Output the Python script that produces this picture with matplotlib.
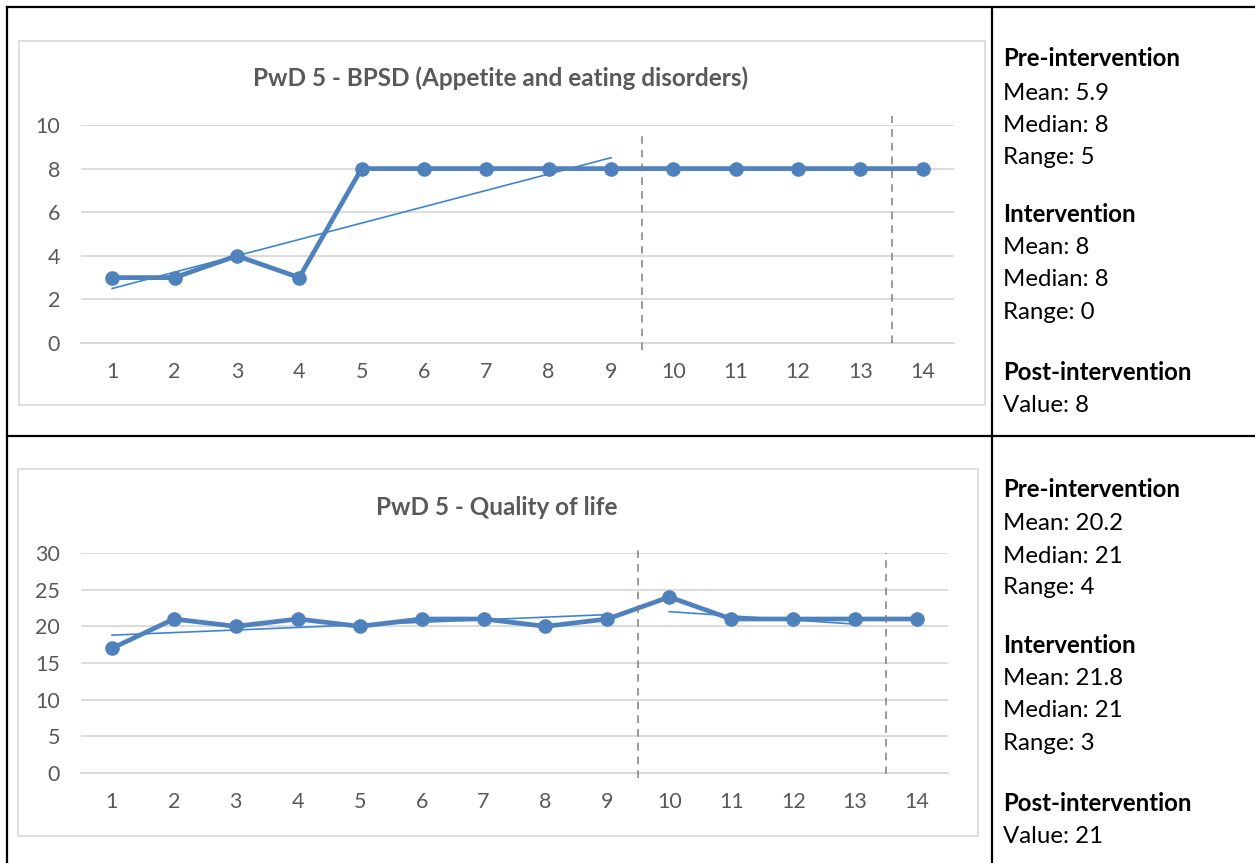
import matplotlib
matplotlib.use("Agg")
import matplotlib.pyplot as plt
from matplotlib.patches import Rectangle
from matplotlib.lines import Line2D

# ---- data ----
sessions = list(range(1, 15))

bpsd_title = "PwD 5 - BPSD (Appetite and eating disorders)"
bpsd_values = [3, 3, 4, 3, 8, 8, 8, 8, 8, 8, 8, 8, 8, 8]
bpsd_yticks = [0, 2, 4, 6, 8, 10]
bpsd_trend_pre_x = [1, 9]
bpsd_trend_pre_y = [2.5, 8.5]
bpsd_trend_int_x = [10, 13]
bpsd_trend_int_y = [8, 8]

qol_title = "PwD 5 - Quality of life"
qol_values = [17, 21, 20, 21, 20, 21, 21, 20, 21, 24, 21, 21, 21, 21]
qol_yticks = [0, 5, 10, 15, 20, 25, 30]
qol_trend_pre_x = [1, 9]
qol_trend_pre_y = [18.8, 21.6]
qol_trend_int_x = [10, 13]
qol_trend_int_y = [22.0, 20.3]

phase_changes = [9.5, 13.5]

bpsd_stats = [("Pre-intervention", True), ("Mean: 5.9", False), ("Median: 8", False),
              ("Range: 5", False), ("", False), ("Intervention", True), ("Mean: 8", False),
              ("Median: 8", False), ("Range: 0", False), ("", False),
              ("Post-intervention", True), ("Value: 8", False)]
qol_stats = [("Pre-intervention", True), ("Mean: 20.2", False), ("Median: 21", False),
             ("Range: 4", False), ("", False), ("Intervention", True), ("Mean: 21.8", False),
             ("Median: 21", False), ("Range: 3", False), ("", False),
             ("Post-intervention", True), ("Value: 21", False)]

# ---- styling ----
W, H = 1255, 863
FONT = "Lato"
SERIES = "#4F81BD"
TREND = "#3D86CF"
GRID = "#D9D9D9"
TEXT = "#595959"

plt.rcParams["font.family"] = [FONT, "DejaVu Sans"]

fig = plt.figure(figsize=(W / 100, H / 100), dpi=100)
fig.patch.set_facecolor("white")


def fx(x):
    return x / W


def fy(y):
    return 1 - y / H


def px_rect(x0, y0, x1, y1):
    return [fx(x0), fy(y1), (x1 - x0) / W, (y1 - y0) / H]


# table rules
for (x0, y0, x1, y1) in [(7, 7, 1255, 7), (7, 436, 1255, 436), (7, 7, 7, 863), (992, 7, 992, 863)]:
    fig.add_artist(Line2D([fx(x0), fx(x1)], [fy(y0), fy(y1)], color="black", lw=1.6,
                          transform=fig.transFigure))

# chart frames
for (x0, y0, x1, y1) in [(19, 41, 985, 405), (18, 469, 978, 836)]:
    fig.add_artist(Rectangle((fx(x0), fy(y1)), (x1 - x0) / W, (y1 - y0) / H,
                             fill=False, edgecolor=GRID, lw=1.2, transform=fig.transFigure))


def draw_chart(rect, values, yticks, trends, title, title_xy, dash_spans):
    ax = fig.add_axes(rect)
    ax.set_xlim(0.5, 14.5)
    ax.set_ylim(yticks[0], yticks[-1])
    ax.set_yticks(yticks)
    ax.set_xticks(sessions)
    ax.set_xticklabels([str(s) for s in sessions])
    ax.grid(axis="y", color=GRID, lw=1.3)
    ax.set_axisbelow(True)
    for s in ax.spines.values():
        s.set_visible(False)
    ax.spines["bottom"].set_visible(True)
    ax.spines["bottom"].set_color(GRID)
    ax.spines["bottom"].set_linewidth(1.3)
    ax.tick_params(length=0, labelsize=15.5, labelcolor=TEXT)
    ax.tick_params(axis="x", pad=14)
    ax.tick_params(axis="y", pad=15)
    for (tx, ty) in trends:
        ax.plot(tx, ty, color=TREND, lw=1.2, zorder=3)
    ax.plot(sessions, values, color=SERIES, lw=3.4, marker="o", ms=9.5, zorder=4,
            solid_joinstyle="round")
    for xc, (lo, hi) in zip(phase_changes, dash_spans):
        ax.plot([xc, xc], [lo, hi], color="#808080", lw=1.1, ls=(0, (5, 4)),
                clip_on=False, zorder=5)
    fig.text(fx(title_xy[0]), fy(title_xy[1]), title, ha="center", va="center",
             fontsize=17.5, fontweight="bold", color=TEXT)
    return ax


draw_chart(px_rect(81, 125, 954, 343), bpsd_values, bpsd_yticks,
           [(bpsd_trend_pre_x, bpsd_trend_pre_y), (bpsd_trend_int_x, bpsd_trend_int_y)],
           bpsd_title, (501, 78), [(-0.3, 9.77), (0, 10.4)])

draw_chart(px_rect(81, 553, 948, 773), qol_values, qol_yticks,
           [(qol_trend_pre_x, qol_trend_pre_y), (qol_trend_int_x, qol_trend_int_y)],
           qol_title, (497, 507), [(-0.7, 30.7), (-0.15, 30.0)])


def draw_stats(lines, y_start):
    y_pos = [0, 35, 67, 99, 0, 156, 189, 221, 254, 0, 314, 347]
    for (txt, bold), dy in zip(lines, y_pos):
        if not txt:
            continue
        fig.text(fx(1003), fy(y_start + dy), txt, ha="left", va="center",
                 fontsize=17.3, fontweight="bold" if bold else "normal", color="black")


draw_stats(bpsd_stats, 58)
draw_stats(qol_stats, 489)

fig.savefig("out.png", dpi=100, facecolor="white")
